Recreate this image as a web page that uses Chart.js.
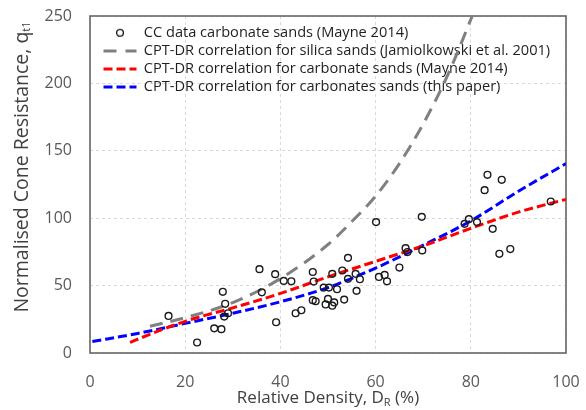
<!DOCTYPE html>
<html>
<head>
<meta charset="utf-8">
<script src="https://cdn.jsdelivr.net/npm/chart.js@4.4.1/dist/chart.umd.min.js"></script>
<style>
  html, body { margin: 0; padding: 0; background: #fff; }
</style>
</head>
<body>
<canvas id="drChart" width="586" height="410"></canvas>
<script>
// CC data, carbonate sands (Mayne 2014)
const ccDR = [16.5, 22.5, 26.1, 27.6, 27.9, 28.4, 28.2, 29.0, 35.6, 36.1, 38.9, 39.1, 40.7, 42.3,
  43.2, 44.4, 46.8, 47.0, 46.8, 47.4, 49.1, 50.2, 49.5, 50.0, 50.9, 50.9, 51.3, 51.9, 53.0, 53.4,
  54.2, 54.2, 55.8, 56.0, 56.7, 60.1, 60.7, 61.9, 62.4, 65.0, 66.3, 66.7, 69.7, 69.8, 78.7, 79.6,
  81.3, 82.9, 83.5, 84.6, 86.5, 86.0, 88.3, 96.8];
const ccQ = [27.5, 7.8, 18.3, 17.7, 45.4, 36.5, 27.0, 29.5, 62.2, 45.0, 58.5, 22.8, 53.5, 53.2,
  29.5, 31.7, 60.1, 53.0, 39.2, 38.4, 48.5, 48.5, 36.0, 40.1, 58.7, 35.1, 37.5, 47.3, 61.2, 39.6,
  70.6, 55.0, 58.7, 46.1, 54.7, 97.1, 56.4, 57.9, 53.2, 63.4, 77.8, 74.9, 101.0, 76.1, 95.8, 99.3,
  97.1, 120.8, 132.2, 92.1, 128.5, 73.6, 77.1, 112.4];

// CPT-DR correlation, silica sands (Jamiolkowski et al. 2001)
const silicaDR = [12.6, 20, 30, 40, 50, 55, 60, 65, 70, 75, 81];
const silicaQ = [19.8, 26.2, 37.4, 55.2, 80.5, 97.5, 116.4, 140.5, 170.0, 205.0, 256.0];

// CPT-DR correlation, carbonate sands (Mayne 2014)
const mayneDR = [8.4, 10, 20, 30, 40, 50, 60, 70, 80, 90, 100];
const mayneQ = [7.8, 10.2, 23.5, 33.5, 44.2, 56.5, 68.0, 79.5, 92.5, 104.5, 114.0];

// CPT-DR correlation, carbonate sands (this paper)
const paperDR = [0.5, 10, 20, 30, 40, 50, 60, 70, 80, 90, 100];
const paperQ = [8.5, 14.5, 22.0, 29.5, 38.0, 48.5, 63.0, 80.0, 98.0, 120.0, 140.5];

const xTicks = [0, 20, 40, 60, 80, 100];
const yTicks = [0, 50, 100, 150, 200, 250];

const toPoints = (xs, ys) => xs.map((x, i) => ({ x, y: ys[i] }));

Chart.defaults.font.family = "'Open Sans', sans-serif";

// little open circle for the legend
const circleIcon = document.createElement("canvas");
circleIcon.width = 12;
circleIcon.height = 12;
const ic = circleIcon.getContext("2d");
ic.strokeStyle = "#1a1a1a";
ic.lineWidth = 1.4;
ic.beginPath();
ic.arc(6, 6, 3.4, 0, Math.PI * 2);
ic.stroke();

const legendDash = [null, [13, 9], [9, 4], [9, 4]];

function drawParts(ctx, parts, cx, cy) {
  // parts: [text, font, dy]
  let total = 0;
  parts.forEach((p) => { ctx.font = p[1]; total += ctx.measureText(p[0]).width; });
  let x = cx - total / 2;
  parts.forEach((p) => {
    ctx.font = p[1];
    ctx.fillText(p[0], x, cy + p[2]);
    x += ctx.measureText(p[0]).width;
  });
}

const framePlugin = {
  id: "frameTitles",
  afterLayout(chart) {
    const a = chart.chartArea;
    const lg = chart.legend;
    lg.left = a.left + 10;
    lg.top = a.top + 6;
    lg.right = a.right;
    lg.bottom = a.bottom;
  },
  beforeDatasetsDraw(chart) {
    const { ctx, chartArea: a } = chart;
    ctx.save();
    ctx.strokeStyle = "#666666";
    ctx.lineWidth = 1.6;
    ctx.strokeRect(a.left, a.top, a.right - a.left, a.bottom - a.top);
    ctx.restore();
  },
  afterDraw(chart) {
    const { ctx } = chart;
    ctx.save();
    ctx.fillStyle = "#404040";
    ctx.textBaseline = "middle";
    const small = "11px 'Open Sans'";
    drawParts(ctx, [["Relative Density, D", "17px 'Open Sans'", 0], ["R", small, 5], [" (%)", "17px 'Open Sans'", 0]], 328, 398);
    ctx.translate(22, 167);
    ctx.rotate(-Math.PI / 2);
    drawParts(ctx, [["Normalised Cone Resistance, q", "19.5px 'Open Sans'", 0], ["t1", small, 5]], 0, 0);
    ctx.restore();
  },
};

new Chart(document.getElementById("drChart"), {
  type: "scatter",
  data: {
    datasets: [
      {
        label: "CC data carbonate sands (Mayne 2014)",
        data: toPoints(ccDR, ccQ),
        pointRadius: 3.4,
        pointBorderWidth: 1.4,
        borderColor: "#1a1a1a",
        backgroundColor: "rgba(0,0,0,0)",
        order: 0,
      },
      {
        label: "CPT-DR correlation for silica sands (Jamiolkowski et al. 2001)",
        data: toPoints(silicaDR, silicaQ),
        showLine: true,
        pointRadius: 0,
        borderColor: "#808080",
        borderWidth: 3,
        borderDash: [13, 8],
        cubicInterpolationMode: "monotone",
        order: 3,
      },
      {
        label: "CPT-DR correlation for carbonate sands (Mayne 2014)",
        data: toPoints(mayneDR, mayneQ),
        showLine: true,
        pointRadius: 0,
        borderColor: "#ff0000",
        borderWidth: 3,
        borderDash: [9, 4],
        cubicInterpolationMode: "monotone",
        order: 1,
      },
      {
        label: "CPT-DR correlation for carbonates sands (this paper)",
        data: toPoints(paperDR, paperQ),
        showLine: true,
        pointRadius: 0,
        borderColor: "#0000ff",
        borderWidth: 3,
        borderDash: [9, 4],
        cubicInterpolationMode: "monotone",
        order: 2,
      },
    ],
  },
  options: {
    responsive: false,
    animation: false,
    devicePixelRatio: 1,
    layout: { padding: { top: 16, right: 20, left: 0, bottom: 0 } },
    plugins: {
      tooltip: { enabled: false },
      legend: {
        position: "chartArea",
        align: "start",
        labels: {
          usePointStyle: true,
          pointStyleWidth: 33,
          padding: 3.5,
          color: "#1f1f1f",
          font: { size: 14.6 },
          generateLabels: (chart) =>
            chart.data.datasets.map((ds, i) => ({
              text: ds.label,
              datasetIndex: i,
              pointStyle: i === 0 ? circleIcon : "line",
              strokeStyle: ds.borderColor,
              fillStyle: "rgba(0,0,0,0)",
              lineWidth: i === 0 ? 1.4 : ds.borderWidth,
              lineDash: legendDash[i] || [],
              fontColor: "#1f1f1f",
            })),
        },
      },
    },
    scales: {
      x: {
        type: "linear",
        min: 0,
        max: 100,
        afterFit: (s) => { s.height = 57; s.paddingLeft = 0; s.paddingRight = 0; },
        afterBuildTicks: (s) => { s.ticks = xTicks.map((v) => ({ value: v })); },
        ticks: { color: "#595959", padding: 20, font: { size: 16 } },
        grid: { color: "#d9d9d9", drawTicks: false },
        border: { display: false, dash: [3, 3] },
      },
      y: {
        type: "linear",
        min: 0,
        max: 250,
        afterFit: (s) => { s.width = 90; s.paddingTop = 0; s.paddingBottom = 0; },
        afterBuildTicks: (s) => { s.ticks = yTicks.map((v) => ({ value: v })); },
        ticks: { color: "#595959", padding: 18, font: { size: 16 } },
        grid: { color: "#d9d9d9", drawTicks: false },
        border: { display: false, dash: [3, 3] },
      },
    },
  },
  plugins: [framePlugin],
});
</script>
</body>
</html>
